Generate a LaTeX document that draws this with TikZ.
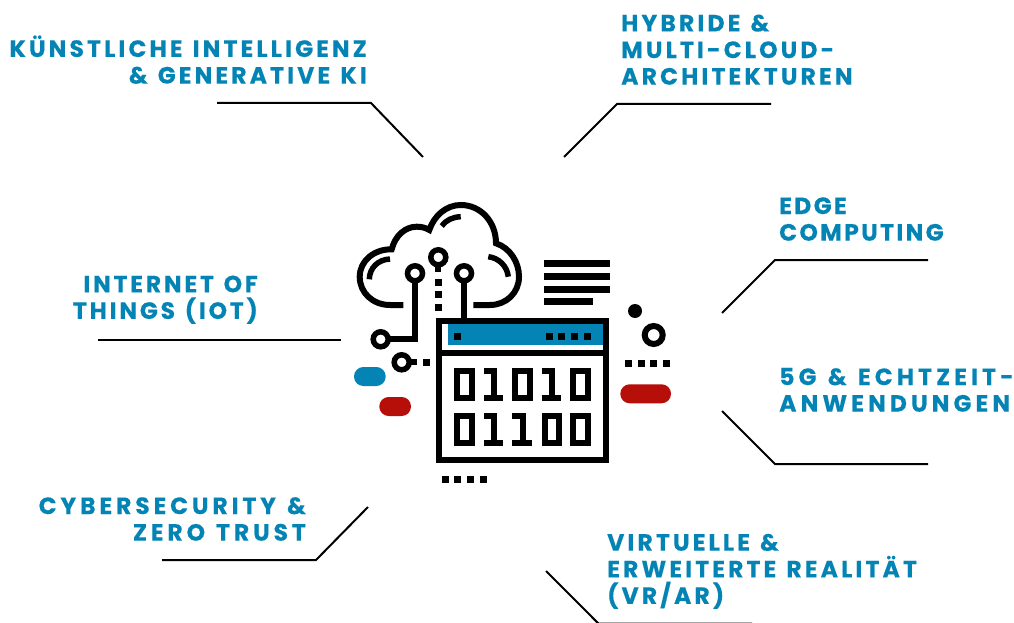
\documentclass[tikz,border=0pt]{standalone}
\usepackage{fontspec}
\newfontfamily\labelfont[WordSpace=1.25,FakeBold=0.3]{Poppins Bold}
\usepackage{xcolor}
\definecolor{label-blue}{RGB}{4,132,180}
\definecolor{pill-red}{RGB}{182,15,10}
\newcommand{\headingFont}[1]{\labelfont\addfontfeature{LetterSpace=#1}\fontsize{23.5}{26.6}\selectfont}
\tikzstyle{heading}=[inner sep=0pt, text=label-blue, font=\headingFont{13.3}]
\tikzstyle{leader}=[black, line width=2pt]
\tikzstyle{icon}=[black, line width=6pt]
\tikzstyle{ring}=[black, line width=5.5pt, fill=white]
\newcommand{\zeroDigit}[2]{
	\draw[icon] ({#1+3},{#2+3}) rectangle ({#1+17.7},{#2+30});
}
\newcommand{\oneDigit}[2]{
	\draw[icon] (#1,{#2+3}) -- ({#1+10.3},{#2+3}) -- ({#1+10.3},{#2+30});
	\draw[icon] (#1,{#2+30}) -- ({#1+19.3},{#2+30});
}
\newcommand{\sqDot}[2]{
	\fill[black] (#1,#2) rectangle ({#1+7},{#2+7});
}
\newcommand{\pill}[4]{
	\fill[rounded corners=9.4pt, #1] (#2,#4) rectangle ({#2+#3},{#4+19});
}
\begin{document}
\begin{tikzpicture}[x=1pt,y=-1pt]
	\useasboundingbox (0,0) rectangle (1014,623);
	\clip (0,0) rectangle (1014,623);
	\fill[white] (0,0) rectangle (1014,623);

	\draw[icon] (403.3,305) -- (390,305) .. controls (373,305) and (359.7,293) .. (359.7,276.7)
		.. controls (359.7,261) and (374,249) .. (391.7,249.3)
		.. controls (395,236) and (405,226.7) .. (416.7,226.7)
		.. controls (422,226.7) and (426,228) .. (429.3,230)
		.. controls (434,216) and (446,205) .. (460.7,205)
		.. controls (481,205) and (496,222) .. (496,243.3)
		.. controls (510,248) and (519,262) .. (519,276.7)
		.. controls (519,293) and (506,305) .. (490,305) -- (473.3,305);
	\draw[icon, line width=5.5pt] (390,259) .. controls (378,259.5) and (369.5,268) .. (369.3,279.3);
	\draw[icon, line width=5.5pt] (460.7,216.7) .. controls (453,217) and (446,220) .. (441.7,226);
	\draw[icon, line width=5.5pt] (488.3,256.7) .. controls (499,258) and (507,266) .. (508.3,276.7);

	\draw[icon] (415,273.3) -- (415,339.3) -- (380.7,339.3);
	\draw[icon] (464,273.3) -- (464,320);
	\draw[icon] (438.3,257.3) -- (438.3,272);
	\draw[icon] (401.7,362.3) -- (417,362.3);
	\draw[ring] (415,273.3) circle (7.5);
	\draw[ring] (464,273.3) circle (7.5);
	\draw[ring] (438.3,257.3) circle (7.5);
	\draw[ring] (380.7,339.3) circle (7.5);
	\draw[ring] (401.7,362.3) circle (7.5);
	\sqDot{435}{279}
	\sqDot{435}{291.3}
	\sqDot{435}{304}
	\sqDot{423.3}{359.3}

	\fill[black] (544,260) rectangle (610,267);
	\fill[black] (544,273) rectangle (610,280);
	\fill[black] (544,286) rectangle (610,293);
	\fill[black] (544,298.3) rectangle (593,305);

	\fill[label-blue] (448,324) rectangle (603,345);
	\draw[icon] (438.7,320.7) rectangle (606,460.3);
	\draw[icon] (438.7,352.5) -- (606,352.5);
	\sqDot{454}{333}
	\sqDot{546}{333}
	\sqDot{558}{333}
	\sqDot{570.7}{333}
	\sqDot{583.7}{333}

	\zeroDigit{454.3}{367.7}
	\oneDigit{484}{367.7}
	\zeroDigit{512.3}{367.7}
	\oneDigit{541.7}{367.7}
	\zeroDigit{570.3}{367.7}
	\zeroDigit{454.3}{412.7}
	\oneDigit{484}{412.7}
	\oneDigit{512.3}{412.7}
	\zeroDigit{541.7}{412.7}
	\zeroDigit{570.3}{412.7}

	\fill[black] (635,311) circle (7);
	\draw[icon] (653.7,335) circle (9);
	\sqDot{625}{360}
	\sqDot{638}{360}
	\sqDot{650.3}{360}
	\sqDot{663.3}{360}
	\sqDot{442}{476}
	\sqDot{454}{476}
	\sqDot{467}{476}
	\sqDot{480}{476}

	\pill{label-blue}{354}{31.7}{367}
	\pill{pill-red}{379.3}{31.7}{397}
	\pill{pill-red}{620.3}{50.7}{384.3}

	\node[heading, anchor=south east, align=right] (kiLabel) at (367,84) {KÜNSTLICHE INTELLIGENZ\\\& GENERATIVE KI};
	\node[heading, anchor=south west, align=left] (cloudLabel) at (621,85) {HYBRIDE \&\\MULTI-CLOUD-\\ARCHITEKTUREN};
	\node[heading, font=\headingFont{10}, anchor=south west, align=left] (edgeLabel) at (779,241) {EDGE\\COMPUTING};
	\node[heading, font=\headingFont{12}, anchor=south east, align=right] (iotLabel) at (258,324) {INTERNET OF\\THINGS (IOT)};
	\node[heading, font=\headingFont{17.5}, anchor=south west, align=left] (fiveGLabel) at (779,412) {5G \& ECHTZEIT-\\ANWENDUNGEN};
	\node[heading, font=\headingFont{16.5}, anchor=south east, align=right] (securityLabel) at (306,541) {CYBERSECURITY \&\\ZERO TRUST};
	\node[heading, anchor=south west, align=left] (vrLabel) at (607,609) {VIRTUELLE \&\\ERWEITERTE REALITÄT\\(VR/AR)};

	\coordinate (kiA) at (217,103);
	\coordinate (kiB) at (371,103);
	\coordinate (kiC) at (423,157);
	\coordinate (cloudA) at (771,104);
	\coordinate (cloudB) at (617,104);
	\coordinate (cloudC) at (564,157);
	\coordinate (edgeA) at (928,260);
	\coordinate (edgeB) at (775,260);
	\coordinate (edgeC) at (722,313);
	\coordinate (fiveGA) at (928,464);
	\coordinate (fiveGB) at (775,464);
	\coordinate (fiveGC) at (722,411);
	\coordinate (iotA) at (98,339.5);
	\coordinate (iotB) at (341,339.5);
	\coordinate (securityA) at (162,560);
	\coordinate (securityB) at (316,560);
	\coordinate (securityC) at (368,507);
	\coordinate (vrA) at (546,571);
	\coordinate (vrB) at (598.5,623.6);
	\coordinate (vrC) at (752,623.6);
	\draw[leader] (kiA) -- (kiB) -- (kiC);
	\draw[leader] (cloudA) -- (cloudB) -- (cloudC);
	\draw[leader] (edgeA) -- (edgeB) -- (edgeC);
	\draw[leader] (fiveGA) -- (fiveGB) -- (fiveGC);
	\draw[leader] (iotA) -- (iotB);
	\draw[leader] (securityA) -- (securityB) -- (securityC);
	\draw[leader] (vrA) -- (vrB) -- (vrC);
\end{tikzpicture}
\end{document}
